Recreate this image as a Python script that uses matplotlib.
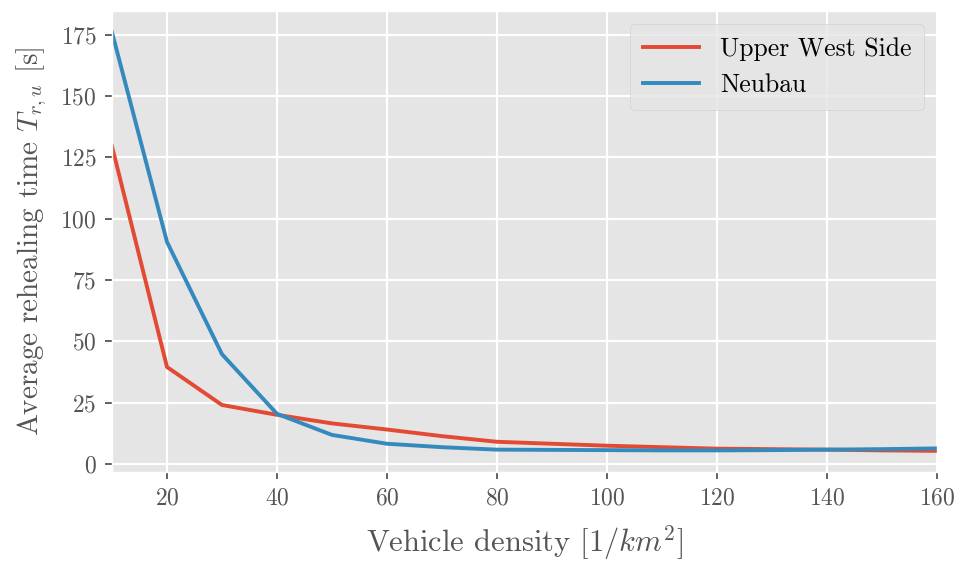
import matplotlib
matplotlib.use('Agg')
import matplotlib.pyplot as plt

plt.style.use('ggplot')
plt.rcParams['font.family'] = ['cmr10', 'DejaVu Serif']
plt.rcParams['mathtext.fontset'] = 'cm'
plt.rcParams['axes.formatter.use_mathtext'] = True
plt.rcParams['grid.linewidth'] = 1.6

# vehicle density [1/km^2]
density = [10, 20, 30, 40, 50, 60, 70, 80, 90, 100, 110, 120, 130, 140, 150, 160]

# average rehealing time [s]
upper_west_side = [129.5, 39.5, 24.0, 20.0, 16.5, 14.0, 11.3, 9.0, 8.2, 7.4,
                   6.8, 6.2, 6.0, 5.8, 5.5, 5.3]
neubau = [176.0, 90.5, 44.7, 20.4, 11.8, 8.2, 6.8, 5.8, 5.7, 5.6,
          5.5, 5.5, 5.6, 5.8, 6.0, 6.3]


fig = plt.figure(figsize=(9.62, 5.61), dpi=100)
ax = fig.add_axes([0.1164, 0.159, 0.8576, 0.821])

ax.plot(density, upper_west_side, linewidth=2.8, label='Upper West Side')
ax.plot(density, neubau, linewidth=2.8, label='Neubau')

ax.set_xlim(10, 160)
ax.set_xticks([20, 40, 60, 80, 100, 120, 140, 160])
ax.set_yticks([0, 25, 50, 75, 100, 125, 150, 175])
ax.tick_params(labelsize=17, length=5, width=1.3, pad=6)

ax.set_xlabel('Vehicle density $[1/km^2]$', fontsize=22, labelpad=10)
ax.set_ylabel('Average rehealing time $T_{r,u}$ [s]', fontsize=21, labelpad=8)

ax.legend(loc='upper right', fontsize=18.5, borderpad=0.5, handlelength=2.2)

fig.savefig('out.png', dpi=100)
